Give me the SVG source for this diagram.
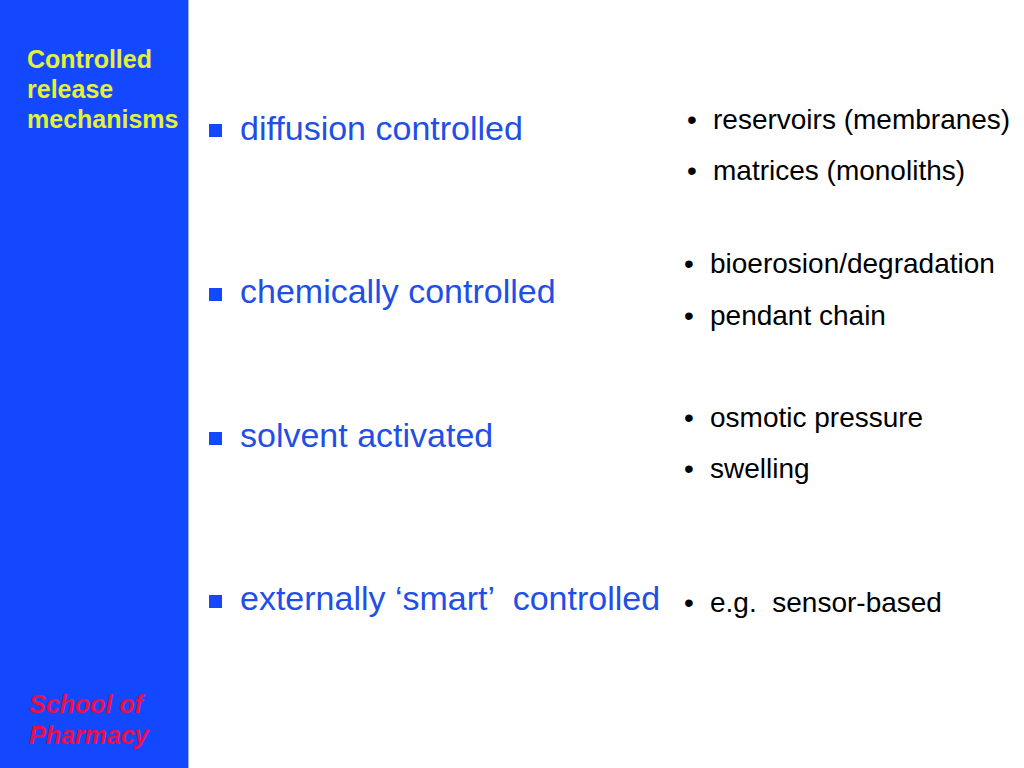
<svg xmlns="http://www.w3.org/2000/svg" width="1024" height="768" viewBox="0 0 1024 768">
<style>
.side{font-family:"Liberation Sans",Arial,sans-serif;font-weight:bold;font-size:25px;fill:#E6F03A}
.school{font-family:"Liberation Sans",Arial,sans-serif;font-weight:bold;font-style:italic;font-size:25px;fill:#E8104A}
.main{font-family:"Liberation Sans",Arial,sans-serif;font-size:34px;fill:#1F4FE6}
.sub{font-family:"Liberation Sans",Arial,sans-serif;font-size:28px;fill:#000}
.sq{fill:#1448FF}
</style>
<rect x="0" y="0" width="1024" height="768" fill="#FFFFFF"/>
<g id="sidebar">
<rect x="0" y="0" width="188" height="768" fill="#1448FF"/>
<line x1="188.5" y1="0" x2="188.5" y2="768" stroke="#9DB0F0" stroke-width="1"/>
<text class="side" x="27" y="68">Controlled</text>
<text class="side" x="27" y="98">release</text>
<text class="side" x="27" y="128">mechanisms</text>
<text class="school" x="29" y="713">School of</text>
<text class="school" x="29" y="744">Pharmacy</text>
</g>
<g id="item1">
<rect class="sq" x="209" y="124" width="13" height="13"/>
<text class="main" x="240" y="140">diffusion controlled</text>
<text class="sub" x="687" y="129">•</text>
<text class="sub" x="713" y="129">reservoirs (membranes)</text>
<text class="sub" x="687" y="180">•</text>
<text class="sub" x="713" y="180">matrices (monoliths)</text>
</g>
<g id="item2">
<rect class="sq" x="209" y="288" width="13" height="13"/>
<text class="main" x="240" y="303">chemically controlled</text>
<text class="sub" x="684" y="273">•</text>
<text class="sub" x="710" y="273">bioerosion/degradation</text>
<text class="sub" x="684" y="325">•</text>
<text class="sub" x="710" y="325">pendant chain</text>
</g>
<g id="item3">
<rect class="sq" x="209" y="432" width="13" height="13"/>
<text class="main" x="240" y="447">solvent activated</text>
<text class="sub" x="684" y="427">•</text>
<text class="sub" x="710" y="427">osmotic pressure</text>
<text class="sub" x="684" y="478">•</text>
<text class="sub" x="710" y="478">swelling</text>
</g>
<g id="item4">
<rect class="sq" x="209" y="595" width="13" height="13"/>
<text class="main" x="240" y="610" xml:space="preserve">externally ‘smart’  controlled</text>
<text class="sub" x="684" y="612">•</text>
<text class="sub" x="710" y="612" xml:space="preserve">e.g.  sensor-based</text>
</g>
<g id="connectors"/>
</svg>
